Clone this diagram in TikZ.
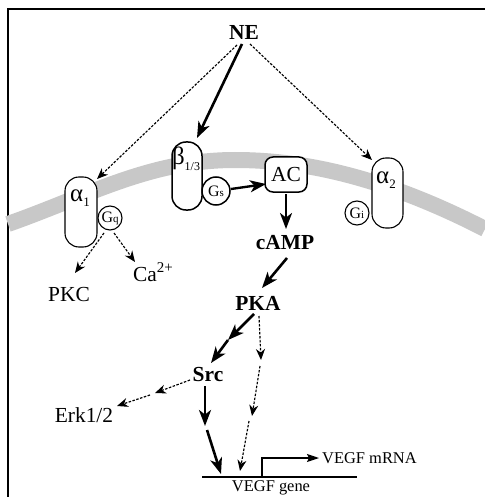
\documentclass[tikz,border=0pt]{standalone}
\usepackage{fontspec}
\setmainfont{Liberation Serif}
\usetikzlibrary{arrows.meta}
\definecolor{memb}{RGB}{200,200,200}
\begin{document}
\begin{tikzpicture}[x=1bp,y=-1bp,
  rbox/.style={draw, fill=white, rounded corners=14bp, minimum width=32bp, minimum height=70bp, inner sep=0pt, line width=1.1bp},
  gcirc/.style={draw, fill=white, circle, minimum size=24bp, inner sep=0pt, line width=1.1bp},
  lab/.style={font=\fontsize{21.5}{24}\selectfont, inner sep=1bp},
  blab/.style={font=\fontsize{21.5}{24}\selectfont\bfseries, inner sep=1bp},
  slab/.style={font=\fontsize{16.5}{19}\selectfont, inner sep=1bp},
  sarrow/.style={line width=2.6bp, -{Stealth[length=16bp,width=12bp,inset=4.5bp]}},
  darrow/.style={line width=1.15bp, dash pattern=on 2.5bp off 1.5bp, -{Stealth[length=11bp,width=9bp,inset=3.5bp]}},
]
\useasboundingbox (0,0) rectangle (485,497);
% frame
\draw[line width=2.5bp] (8,497) -- (8,9) -- (485,9);
% membrane
\draw[line width=16bp, memb] (8,224) .. controls (90,195) and (150,160) .. (235,160)
  .. controls (300,160) and (380,175) .. (485,229);
% receptors
\node[rbox] (a1) at (81,212) {};
\node[rbox, minimum width=30bp, minimum height=68bp, line width=1.5bp] (b13) at (187,176) {};
\node[rbox, minimum width=42bp, minimum height=35bp, rounded corners=8bp, line width=1.5bp] (AC) at (286,174.5) {};
\node[lab] at (AC) {AC};
\node[rbox, minimum width=31bp] (a2) at (387.5,193) {};
\node[lab, font=\fontsize{25}{28}\selectfont] (a1lab) at (80,198) {α\raisebox{-0.2em}{\fontsize{13}{13}\selectfont 1}};
\node[lab, font=\fontsize{25}{28}\selectfont] (blab) at (186,159) {β\raisebox{-0.25em}{\fontsize{12}{12}\selectfont 1/3}};
\node[lab, font=\fontsize{25}{28}\selectfont] (a2lab) at (386,180) {α\raisebox{-0.2em}{\fontsize{13}{13}\selectfont 2}};
\node[gcirc] (Gq) at (110,218) {\fontsize{16}{16}\selectfont G\fontsize{11}{11}\selectfont q};
\node[gcirc, minimum size=28bp, line width=1.5bp] (Gs) at (216,191) {\fontsize{16}{16}\selectfont G\fontsize{11}{11}\selectfont s};
\node[gcirc] (Gi) at (357,213) {\fontsize{16}{16}\selectfont G\fontsize{11}{11}\selectfont i};
% text nodes
\node[blab] (NE) at (244,32) {NE};
\node[blab] (cAMP) at (285,243) {cAMP};
\node[blab] (PKA) at (258,303) {PKA};
\node[blab] (Src) at (208,375) {Src};
\node[lab] (PKC) at (69,295) {PKC};
\node[lab] (Ca) at (153,272) {Ca\raisebox{0.45em}{\fontsize{15}{15}\selectfont 2+}};
\node[lab] (Erk) at (84,415) {Erk1/2};
\node[slab, anchor=west] (mRNA) at (321,458) {VEGF mRNA};
\node[slab] (gene) at (271,488) {VEGF gene};
% coordinates
\coordinate (ne1) at (242,44);
\coordinate (ne2) at (237,45);
\coordinate (ne3) at (250,44);
\coordinate (bt) at (197,138);
\coordinate (a1t) at (97,179);
\coordinate (a2t) at (372,160);
\coordinate (gq1) at (104,233);
\coordinate (gq2) at (114,233);
\coordinate (pkct) at (75,273);
\coordinate (cat) at (135,262);
\coordinate (gs1) at (231,189);
\coordinate (act) at (266,184);
\coordinate (ac1) at (286,194);
\coordinate (campt) at (286,229);
\coordinate (camp1) at (287,258);
\coordinate (pkat) at (262,288);
\coordinate (pk1) at (254,314);
\coordinate (pk2) at (228,340);
\coordinate (srct) at (211,363);
\coordinate (pd1) at (259,316);
\coordinate (pd2) at (261,360);
\coordinate (pd3) at (260,366);
\coordinate (pd4) at (252,416);
\coordinate (pd5) at (249,421);
\coordinate (pd6) at (240,471);
\coordinate (sg1) at (205,386);
\coordinate (sg2) at (205,426);
\coordinate (sg3) at (207,430);
\coordinate (sg4) at (221,474);
\coordinate (se1) at (190,380);
\coordinate (se2) at (155,393);
\coordinate (se3) at (150,395);
\coordinate (se4) at (117,406);
\coordinate (gl) at (202,477);
\coordinate (gr) at (357,477);
\coordinate (pr1) at (262,477);
\coordinate (pr2) at (262,458);
\coordinate (pr3) at (319,458);
% connectors
\draw[sarrow] (ne1) -- (bt);
\draw[darrow] (ne2) -- (a1t);
\draw[darrow] (ne3) -- (a2t);
\draw[darrow] (gq1) -- (pkct);
\draw[darrow] (gq2) -- (cat);
\draw[sarrow, line width=2.4bp] (gs1) -- (act);
\draw[sarrow, line width=2.2bp] (ac1) -- (campt);
\draw[sarrow] (camp1) -- (pkat);
\draw[sarrow] (pk1) -- (pk2);
\draw[sarrow] (pk2) -- (srct);
\draw[darrow] (pd1) -- (pd2);
\draw[darrow] (pd3) -- (pd4);
\draw[darrow] (pd5) -- (pd6);
\draw[sarrow] (sg1) -- (sg2);
\draw[sarrow] (sg3) -- (sg4);
\draw[darrow] (se1) -- (se2);
\draw[darrow] (se3) -- (se4);
% gene
\draw[line width=1.3bp] (gl) -- (gr);
\draw[line width=1.3bp, -{Stealth[length=12bp,width=8bp,inset=2bp]}] (pr1) -- (pr2) -- (pr3);
\end{tikzpicture}
\end{document}
